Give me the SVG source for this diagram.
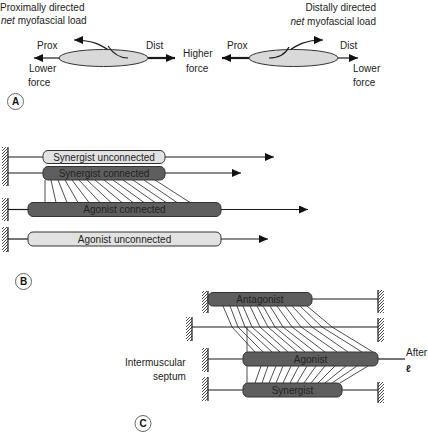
<svg xmlns="http://www.w3.org/2000/svg" width="428" height="434" viewBox="0 0 428 434">
<defs>
<style>
text{font-family:"Liberation Sans",Arial,sans-serif;font-size:10px;fill:#222}
.ln{stroke:#1a1a1a;stroke-width:1.2;fill:none}
.thk{stroke:#1a1a1a;stroke-width:2.2;fill:none}
.fib{stroke:#222;stroke-width:0.8;fill:none}
.light{fill:#e2e2e2;stroke:#333;stroke-width:1}
.dark{fill:#5e5e5e;stroke:#333;stroke-width:1}
.ell{fill:#d9d9d9;stroke:#333;stroke-width:1}
.wall{stroke:#1a1a1a;stroke-width:1.2}
.lbl{font-weight:bold;font-size:10px;fill:#111}
.circ{fill:#fff;stroke:#666;stroke-width:1}
.mid{text-anchor:middle}
.end{text-anchor:end}
</style>
<marker id="arr" markerUnits="userSpaceOnUse" markerWidth="9" markerHeight="8" refX="9" refY="4" orient="auto">
<path d="M0,0 L9,4 L0,8 z" fill="#111"/>
</marker>
<pattern id="hatch" patternUnits="userSpaceOnUse" width="3" height="3">
<path d="M0,3 L3,0 M-1,1 L1,-1 M2,4 L4,2" stroke="#222" stroke-width="0.8"/>
</pattern>
</defs>
<rect width="428" height="434" fill="#fff"/>

<!-- ================= Connectors ================= -->
<g id="connectors">
<!-- Panel A -->
<line class="ln" x1="59" y1="58" x2="34" y2="58" marker-end="url(#arr)"/>
<line class="thk" x1="148" y1="58" x2="175" y2="58" marker-end="url(#arr)"/>
<path class="ln" d="M128,58 C110,58 108,40 74,40" marker-end="url(#arr)"/>
<line class="thk" x1="249" y1="58" x2="222" y2="58" marker-end="url(#arr)"/>
<line class="ln" x1="338" y1="58" x2="358" y2="58" marker-end="url(#arr)"/>
<path class="ln" d="M269,58 C290,58 290,40 323,40" marker-end="url(#arr)"/>

<!-- Panel B lines -->
<line class="ln" x1="8" y1="157" x2="43" y2="157"/>
<line class="ln" x1="165" y1="157" x2="274" y2="157" marker-end="url(#arr)"/>
<line class="ln" x1="8" y1="173" x2="43" y2="173"/>
<line class="ln" x1="165" y1="173" x2="241" y2="173" marker-end="url(#arr)"/>
<line class="ln" x1="8" y1="209.5" x2="28" y2="209.5"/>
<line class="ln" x1="221" y1="209.5" x2="308" y2="209.5" marker-end="url(#arr)"/>
<line class="ln" x1="8" y1="239" x2="28" y2="239"/>
<line class="ln" x1="221" y1="239" x2="268" y2="239" marker-end="url(#arr)"/>
<path class="fib" d="M45,180 L45,202.5 M51,180 L56,202.5 M58,180 L67,202.5 M65,180 L78,202.5 M72,180 L89,202.5 M79,180 L100,202.5 M87,180 L111,202.5 M95,180 L122,202.5 M104,180 L133,202.5 M113,180 L144,202.5 M123,180 L155,202.5 M133,180 L166,202.5 M144,180 L177,202.5 M155,180 L190,202.5"/>

<!-- Panel C lines -->
<line class="ln" x1="312" y1="299" x2="378" y2="299"/>
<line class="ln" x1="192" y1="327" x2="378" y2="327"/>
<line class="ln" x1="208" y1="359" x2="243" y2="359"/>
<line class="ln" x1="378" y1="359" x2="405" y2="359"/>
<line class="ln" x1="208" y1="390" x2="243" y2="390"/>
<line class="ln" x1="342" y1="390" x2="378" y2="390"/>
<path class="fib" d="M223,306 L232,327 L255,352 M230,306 L238,327 L263,352 M237,306 L245,327 L272,352 M243,306 L252,327 L280,352 M250,306 L260,327 L288,352 M257,306 L268,327 L297,352 M263,306 L275,327 L305,352 M270,306 L283,327 L315,352 M277,306 L292,327 L325,352 M285,306 L301,327 L337,352 M292,306 L312,327 L348,352 M300,306 L322,327 L362,352 M307,306 L332,327 L373,352"/>
<line class="fib" x1="247" y1="327" x2="247" y2="383"/>
<path class="fib" d="M261,366 L255,383 M268,366 L262,383 M276,366 L269,383 M283,366 L276,383 M291,366 L283,383 M299,366 L290,383 M307,366 L297,383 M316,366 L304,383 M325,366 L311,383 M335,366 L318,383 M346,366 L325,383 M357,366 L332,383 M368,366 L340,383"/>
</g>

<!-- ================= Panel A ================= -->
<g id="A-left">
<ellipse class="ell" cx="103.5" cy="58" rx="44.5" ry="8.5"/>
<path class="ln" d="M128,58 C118,58 112,52 108,46"/>
<text x="0" y="11">Proximally directed</text>
<text x="1" y="24"><tspan font-style="italic">net</tspan> myofascial load</text>
<text x="37" y="49">Prox</text>
<text x="146" y="49">Dist</text>
<text x="29" y="72">Lower</text>
<text x="28" y="86">force</text>
</g>
<g id="A-mid">
<text x="183" y="57">Higher</text>
<text x="186" y="72">force</text>
</g>
<g id="A-right">
<ellipse class="ell" cx="293.5" cy="58" rx="44.5" ry="8.5"/>
<path class="ln" d="M269,58 C281,58 286,53 289,47"/>
<text class="end" x="376" y="11">Distally directed</text>
<text class="end" x="376" y="25"><tspan font-style="italic">net</tspan> myofascial load</text>
<text x="227" y="49">Prox</text>
<text x="340" y="49">Dist</text>
<text x="353" y="72">Lower</text>
<text x="353" y="86">force</text>
</g>
<g id="label-A">
<circle class="circ" cx="15.5" cy="101.5" r="8"/>
<text class="lbl mid" x="15.5" y="105">A</text>
</g>

<!-- ================= Panel B ================= -->
<g id="B-walls">
<line class="wall" x1="8" y1="147" x2="8" y2="186"/>
<rect x="2" y="147" width="6" height="39" fill="url(#hatch)"/>
<line class="wall" x1="8" y1="198" x2="8" y2="221"/>
<rect x="2" y="198" width="6" height="23" fill="url(#hatch)"/>
<line class="wall" x1="8" y1="227" x2="8" y2="252"/>
<rect x="2" y="227" width="6" height="25" fill="url(#hatch)"/>
</g>
<g id="syn-unconnected">
<rect class="light" x="43" y="150.5" width="122" height="13" rx="5"/>
<text class="mid" x="104" y="160.5">Synergist unconnected</text>
</g>
<g id="syn-connected">
<rect class="dark" x="43" y="166.5" width="122" height="13.5" rx="5"/>
<text class="mid" x="104" y="177">Synergist connected</text>
</g>
<g id="ago-connected">
<rect class="dark" x="28" y="202.5" width="193" height="14" rx="5"/>
<text class="mid" x="124.5" y="213">Agonist connected</text>
</g>
<g id="ago-unconnected">
<rect class="light" x="28" y="232" width="193" height="14" rx="5"/>
<text class="mid" x="124.5" y="242.5">Agonist unconnected</text>
</g>
<g id="label-B">
<circle class="circ" cx="23.5" cy="281.5" r="8"/>
<text class="lbl mid" x="23.5" y="285">B</text>
</g>

<!-- ================= Panel C ================= -->
<g id="C-walls">
<line class="wall" x1="208" y1="291" x2="208" y2="313"/>
<rect x="202" y="291" width="6" height="22" fill="url(#hatch)"/>
<line class="wall" x1="378" y1="290" x2="378" y2="313"/>
<rect x="378" y="290" width="6" height="23" fill="url(#hatch)"/>
<line class="wall" x1="192" y1="317" x2="192" y2="341"/>
<rect x="186" y="317" width="6" height="24" fill="url(#hatch)"/>
<line class="wall" x1="378" y1="318" x2="378" y2="342"/>
<rect x="378" y="318" width="6" height="24" fill="url(#hatch)"/>
<line class="wall" x1="208" y1="348" x2="208" y2="372"/>
<rect x="202" y="348" width="6" height="24" fill="url(#hatch)"/>
<line class="wall" x1="208" y1="377" x2="208" y2="401"/>
<rect x="202" y="377" width="6" height="24" fill="url(#hatch)"/>
<line class="wall" x1="378" y1="382" x2="378" y2="403"/>
<rect x="378" y="382" width="6" height="21" fill="url(#hatch)"/>
</g>
<g id="antagonist">
<rect class="dark" x="208" y="292.5" width="104" height="13.5" rx="5"/>
<text class="mid" x="260" y="303">Antagonist</text>
</g>
<g id="agonist">
<rect class="dark" x="243" y="352" width="135" height="14" rx="5"/>
<text class="mid" x="310.5" y="362.5">Agonist</text>
</g>
<g id="synergist">
<rect class="dark" x="243" y="383" width="99" height="14" rx="5"/>
<text class="mid" x="292.5" y="393.5">Synergist</text>
</g>
<g id="septum-label">
<text x="125" y="366">Intermuscular</text>
<text x="153" y="380">septum</text>
</g>
<g id="after-label">
<text x="406" y="356">After</text>
<text x="406" y="372" font-weight="bold" font-size="12">ℓ</text>
</g>
<g id="label-C">
<circle class="circ" cx="143" cy="423.5" r="8"/>
<text class="lbl mid" x="143" y="427">C</text>
</g>
</svg>
